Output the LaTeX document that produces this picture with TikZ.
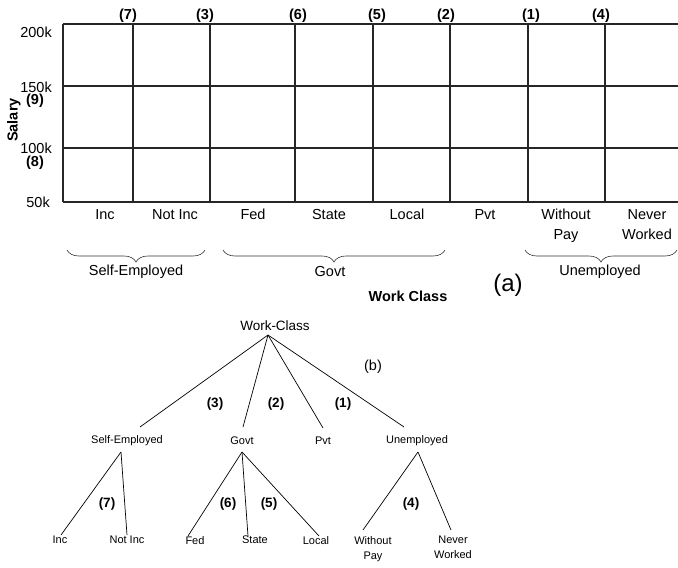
\documentclass[tikz,border=0pt]{standalone}
\usepackage{fontspec}
\setmainfont{Liberation Sans}
\usetikzlibrary{decorations.pathreplacing}
\begin{document}
\begin{tikzpicture}[x=1pt,y=-1pt,
  grid/.style={line width=1.3pt,draw=black!85},
  lab/.style={font=\fontsize{14.5}{16}\selectfont,inner sep=0pt,align=center},
  blab/.style={font=\bfseries\fontsize{14.5}{16}\selectfont,inner sep=0pt},
  tlab/.style={font=\fontsize{11}{15}\selectfont,inner sep=0pt,align=center},
  tnum/.style={font=\bfseries\fontsize{13.5}{15}\selectfont,inner sep=0pt},
  edge/.style={line width=0.7pt},
  brc/.style={decorate,decoration={brace,mirror,amplitude=12pt},line width=0.6pt,draw=black!80}]
\useasboundingbox (0,0) rectangle (678,568);
% grid
\begin{scope}
\clip (0,0) rectangle (678,568);
\foreach \y in {24,86,148,202} \draw[grid] (63,\y) -- (680,\y);
\foreach \x in {63,133,210,295,373,450,528,605} \draw[grid] (\x,24) -- (\x,202);
\draw[brc] (525,250) -- (677,250);
\end{scope}
% y labels
\node[lab,anchor=east] (y200) at (52,32) {200k};
\node[lab,anchor=east] (y150) at (52,87) {150k};
\node[lab,anchor=east] (y100) at (52,148) {100k};
\node[lab,anchor=east] (y50) at (50,202) {50k};
\node[blab] (n9) at (35,101) {(9)};
\node[blab] (n8) at (35,163) {(8)};
\node[blab,rotate=90] (sal) at (14,120) {Salary};
% top numbers
\node[blab] (t7) at (128,16) {(7)};
\node[blab] (t3) at (205,16) {(3)};
\node[blab] (t6) at (298,16) {(6)};
\node[blab] (t5) at (377,16) {(5)};
\node[blab] (t2) at (446,16) {(2)};
\node[blab] (t1) at (531,16) {(1)};
\node[blab] (t4) at (601,16) {(4)};
% column labels
\node[lab,anchor=north] (cinc) at (105,209) {Inc};
\node[lab,anchor=north] (cnot) at (175,209) {Not Inc};
\node[lab,anchor=north] (cfed) at (253,209) {Fed};
\node[lab,anchor=north] (cst) at (329,209) {State};
\node[lab,anchor=north] (cloc) at (407,209) {Local};
\node[lab,anchor=north] (cpvt) at (485,209) {Pvt};
\node[lab,anchor=north,font=\fontsize{14.5}{20}\selectfont] (cwp) at (566,209) {Without\\Pay};
\node[lab,anchor=north,font=\fontsize{14.5}{20}\selectfont] (cnw) at (647,209) {Never\\Worked};
% braces
\draw[brc] (67,250) -- (205,250);
\draw[brc] (223,250) -- (445,250);
\node[lab] (gse) at (136,272) {Self-Employed};
\node[lab] (ggov) at (330,272) {Govt};
\node[lab] (gun) at (600,272) {Unemployed};
\node[font=\fontsize{24}{26}\selectfont,inner sep=0pt] (la) at (508,285) {(a)};
\node[blab] (wcl) at (408,296) {Work Class};
% tree
\node[font=\fontsize{13.5}{15}\selectfont,inner sep=0pt] (root) at (275,326) {Work-Class};
\node[font=\fontsize{14.5}{16}\selectfont,inner sep=0pt] (lb) at (373,367) {(b)};
\node[tlab] (se) at (127,441) {Self-Employed};
\node[tlab] (gv) at (242,441) {Govt};
\node[tlab] (pv) at (323,441) {Pvt};
\node[tlab] (un) at (417,441) {Unemployed};
\node[tnum] (e3) at (215,404) {(3)};
\node[tnum] (e2) at (276,404) {(2)};
\node[tnum] (e1) at (343,404) {(1)};
\node[tlab,anchor=north] (inc) at (60,536) {Inc};
\node[tlab,anchor=north] (ninc) at (127,536) {Not Inc};
\node[tlab,anchor=north] (fed) at (195,536) {Fed};
\node[tlab,anchor=north] (st) at (255,536) {State};
\node[tlab,anchor=north] (loc) at (316,536) {Local};
\node[tlab,anchor=north] (wp) at (373,536) {Without\\Pay};
\node[tlab,anchor=north] (nw) at (453,536) {Never\\Worked};
\node[tnum] (e7) at (107,504) {(7)};
\node[tnum] (e6) at (228,504) {(6)};
\node[tnum] (e5) at (269,504) {(5)};
\node[tnum] (e4) at (411,504) {(4)};
% connector end points
\coordinate (rA) at (268,335);
\coordinate (seT) at (140,427);
\coordinate (gvT) at (243,427);
\coordinate (pvT) at (323,428);
\coordinate (unT) at (404,427);
\coordinate (seB) at (121,452);
\coordinate (gvB) at (242,452);
\coordinate (unB) at (418,452);
\coordinate (incT) at (61,535);
\coordinate (nincT) at (127,535);
\coordinate (fedT) at (188,536);
\coordinate (stT) at (248,536);
\coordinate (locT) at (319,536);
\coordinate (wpT) at (363,530);
\coordinate (nwT) at (451,530);
\draw[edge] (rA) -- (seT);
\draw[edge] (rA) -- (gvT);
\draw[edge] (rA) -- (pvT);
\draw[edge] (rA) -- (unT);
\draw[edge] (seB) -- (incT);
\draw[edge] (seB) -- (nincT);
\draw[edge] (gvB) -- (fedT);
\draw[edge] (gvB) -- (stT);
\draw[edge] (gvB) -- (locT);
\draw[edge] (unB) -- (wpT);
\draw[edge] (unB) -- (nwT);
\end{tikzpicture}
\end{document}
